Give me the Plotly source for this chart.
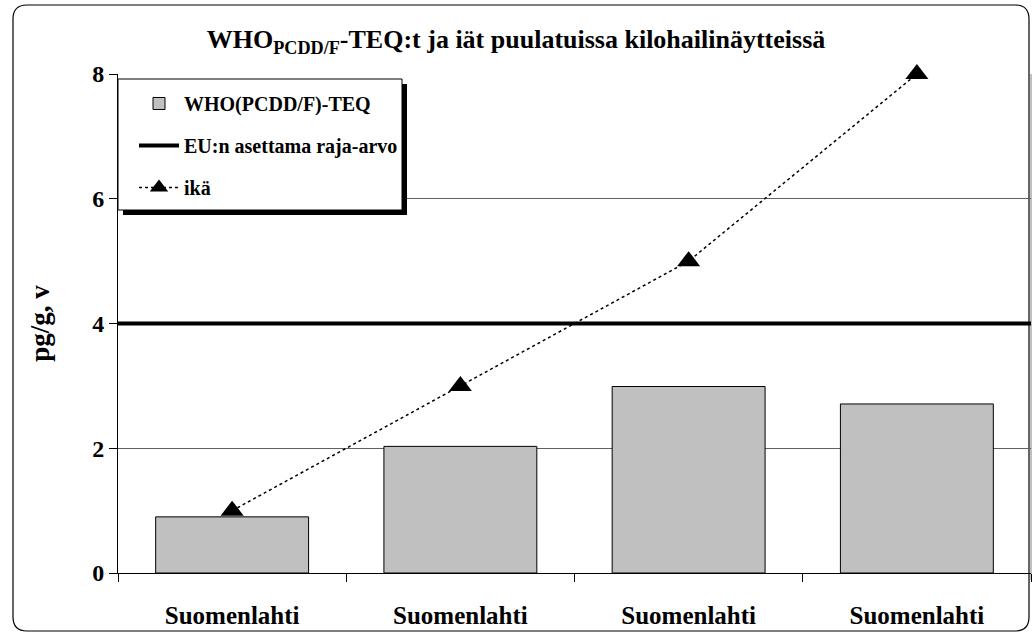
import plotly.graph_objects as go

# ---- data ----
categories = ["Suomenlahti A", "Suomenlahti B", "Suomenlahti C", "Suomenlahti D"]
tick_labels = ["Suomenlahti", "Suomenlahti", "Suomenlahti", "Suomenlahti"]
teq_values = [0.90, 2.03, 2.99, 2.71]
age_values = [1, 3, 5, 8]
eu_limit = 4

W, H = 1032, 636
L, R, T, B = 118, 1031, 74, 573
FONT = "Liberation Serif, Times New Roman, serif"


def px(x):
    return (x - L) / (R - L)


def py(y):
    return (B - y) / (B - T)


fig = go.Figure()
fig.add_trace(go.Bar(
    x=categories, y=teq_values, name="WHO(PCDD/F)-TEQ",
    marker=dict(color="#c0c0c0", line=dict(color="black", width=1)),
    legendgroup="a",
))
fig.add_trace(go.Scatter(
    x=[0, 1], y=[eu_limit, eu_limit], xaxis="x2", mode="lines",
    name="EU:n asettama raja-arvo", line=dict(color="black", width=4),
    legendgroup="b",
))
fig.add_trace(go.Scatter(
    x=categories, y=age_values, mode="lines+markers", name="ikä",
    line=dict(color="black", width=1.5, dash="dot"),
    marker=dict(symbol="triangle-up", size=20, color="black"),
    legendgroup="c", cliponaxis=False,
))

# rounded outer frame
fx0, fx1, fy0, fy1, r = 13, 1029, 5, 631, 14
rx = r / (R - L)
ry = r / (B - T)
X0, X1, Y0, Y1 = px(fx0), px(fx1), py(fy1), py(fy0)
frame_path = (
    f"M {X0+rx},{Y1} L {X1-rx},{Y1} Q {X1},{Y1} {X1},{Y1-ry} "
    f"L {X1},{Y0+ry} Q {X1},{Y0} {X1-rx},{Y0} "
    f"L {X0+rx},{Y0} Q {X0},{Y0} {X0},{Y0+ry} "
    f"L {X0},{Y1-ry} Q {X0},{Y1} {X0+rx},{Y1} Z"
)

shapes = [
    dict(type="path", xref="paper", yref="paper", path=frame_path,
         line=dict(color="black", width=1.2), layer="below"),
    # plot area right border
    dict(type="line", xref="paper", yref="paper", x0=1, x1=1, y0=py(580), y1=1,
         line=dict(color="#808080", width=1), layer="below"),
    # legend shadow
    dict(type="rect", xref="paper", yref="paper",
         x0=px(123), x1=px(407), y0=py(215), y1=py(84),
         fillcolor="black", line=dict(width=0), layer="above"),
    # legend box
    dict(type="rect", xref="paper", yref="paper",
         x0=px(118), x1=px(402), y0=py(210), y1=py(79),
         fillcolor="white", line=dict(color="black", width=1), layer="above"),
]

fig.update_layout(
    width=W, height=H,
    margin=dict(l=L, r=W - R, t=T, b=H - B, autoexpand=False),
    paper_bgcolor="white", plot_bgcolor="white",
    font=dict(family=FONT, color="black"),
    title=dict(
        text="<b>WHO<sub>PCDD/F</sub>-TEQ:t ja iät puulatuissa kilohailinäytteissä</b>",
        x=0.5, xanchor="center", y=1 - 39 / H, yanchor="middle",
        font=dict(size=26, family=FONT, color="black"),
    ),
    bargap=0.33,
    showlegend=True,
    legend=dict(
        x=px(134), y=py(84), xanchor="left", yanchor="top",
        bgcolor="rgba(0,0,0,0)", borderwidth=0,
        font=dict(size=20, family=FONT, color="black", weight="bold"),
        tracegroupgap=13, traceorder="grouped", itemwidth=40,
    ),
    xaxis=dict(
        type="category", tickmode="array", tickvals=categories, ticktext=tick_labels,
        tickson="boundaries", ticks="outside", ticklen=8, tickcolor="black",
        showline=True, linecolor="black", linewidth=1,
        showgrid=False, zeroline=False,
        tickfont=dict(size=25, family=FONT, color="black", weight="bold"),
        ticklabelstandoff=20,
    ),
    xaxis2=dict(overlaying="x", range=[0, 1], visible=False),
    yaxis=dict(
        range=[0, 8], dtick=2, tick0=0,
        ticks="outside", ticklen=8, tickcolor="black",
        showline=True, linecolor="black", linewidth=1,
        showgrid=True, gridcolor="#606060", gridwidth=1,
        zeroline=False,
        tickfont=dict(size=24, family=FONT, color="black", weight="bold"),
        title=dict(text="<b>pg/g, v</b>", font=dict(size=27, family=FONT, color="black"),
                   standoff=34),
    ),
    shapes=shapes,
)

fig.write_html("out.html", config={"displayModeBar": False},
               post_script="document.body.style.margin='0';")
